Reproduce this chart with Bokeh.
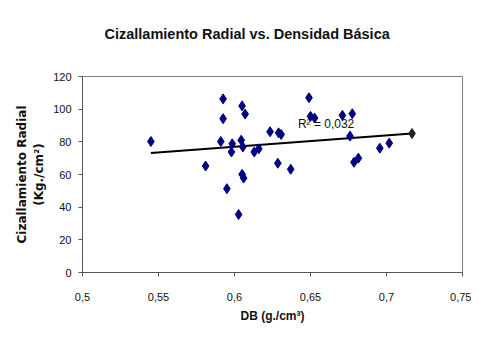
from bokeh.plotting import figure
from bokeh.models import Range1d, FixedTicker, Title
from bokeh.core.properties import value
from bokeh.embed import file_html
from bokeh.resources import INLINE

title_text = "Cizallamiento Radial vs. Densidad Básica"
db = [0.545, 0.581, 0.5925, 0.5925, 0.591, 0.595, 0.5985, 0.598, 0.6027, 0.605,
      0.607, 0.6044, 0.6055, 0.605, 0.606, 0.613, 0.616, 0.6234, 0.629, 0.6307,
      0.6285, 0.637, 0.649, 0.650, 0.6527, 0.671, 0.6775, 0.676, 0.6786, 0.6815,
      0.6956, 0.7018]
cr = [80.2, 65.2, 106.3, 94.2, 80.2, 51.3, 78.8, 73.8, 35.5, 102,
      97, 81, 76.9, 60.1, 57.8, 73.8, 75.7, 86.2, 85.5, 84.5,
      66.9, 63.2, 107, 95.6, 94.6, 96.2, 97.2, 83.5, 67.5, 70,
      76.1, 79.2]
end_db = [0.7168]
end_cr = [85.1]
trend_db = [0.545, 0.7168]
trend_cr = [73.2, 85.1]
r2_text = ["R\u00b2 = 0,032"]
r2_x = [0.6417]
r2_y = [91]
x_ticks = [0.5, 0.55, 0.6, 0.65, 0.7, 0.75]
x_tick_labels = ["0,5", "0,55", "0,6", "0,65", "0,7", "0,75"]
y_ticks = [0, 20, 40, 60, 80, 100, 120]

W, H = 471, 343
p = figure(width=W, height=H, output_backend="svg", toolbar_location=None,
           x_range=Range1d(0.5, 0.75), y_range=Range1d(0, 120),
           min_border_left=82, min_border_right=9, min_border_top=76,
           min_border_bottom=71, title=title_text)
p.title.align = "left"
p.title.offset = 22
p.title.text_font = "Liberation Sans"
p.title.text_font_size = "14.5px"
p.title.text_font_style = "bold"
p.title.text_color = "#111111"
p.title.standoff = 4

# empty spacer title between the real title and the plot frame
spacer = Title(text=" ", text_font_size="24px", standoff=4)
p.add_layout(spacer, "above")

p.xgrid.visible = False
p.ygrid.visible = False
p.outline_line_color = "#808080"
p.background_fill_color = "white"
p.border_fill_color = "white"

p.xaxis.ticker = FixedTicker(ticks=x_ticks)
p.xaxis.major_label_overrides = {t: l for t, l in zip(x_ticks, x_tick_labels)}
p.yaxis.ticker = FixedTicker(ticks=y_ticks)
for ax in (p.xaxis, p.yaxis):
    ax.minor_tick_line_color = None
    ax.major_tick_in = 0
    ax.major_tick_out = 4
    ax.axis_line_color = "#555555"
    ax.major_tick_line_color = "#555555"
    ax.major_label_text_font = "Liberation Sans"
    ax.major_label_text_font_size = "11px"
    ax.major_label_text_color = "#111111"
    ax.axis_label_text_color = "#111111"
    ax.axis_label_text_font_style = "bold"
p.xaxis.major_label_standoff = 16
p.yaxis.major_label_standoff = 7

p.xaxis.axis_label = "DB (g./cm\u00b3)"
p.xaxis.axis_label_text_font = "Liberation Sans"
p.xaxis.axis_label_text_font_size = "12px"
p.xaxis.axis_label_standoff = 5

p.yaxis.axis_label = "Cizallamiento Radial\n(Kg./cm\u00b2)"
p.yaxis.axis_label_text_font = "DejaVu Sans"
p.yaxis.axis_label_text_font_size = "12px"
p.yaxis.axis_label_standoff = 4

p.text(x=r2_x, y=r2_y, text=r2_text, text_font=value("Liberation Sans"),
       text_font_size="12px", text_color="#111111", text_baseline="alphabetic")
p.line(trend_db, trend_cr, line_color="black", line_width=2)
p.scatter(db, cr, marker="diamond", size=10, fill_color="#000080",
          line_color="#000080")
p.scatter(end_db, end_cr, marker="diamond", size=10, fill_color="#222222",
          line_color="#222222")

open("out.html", "w").write(file_html(p, INLINE))
